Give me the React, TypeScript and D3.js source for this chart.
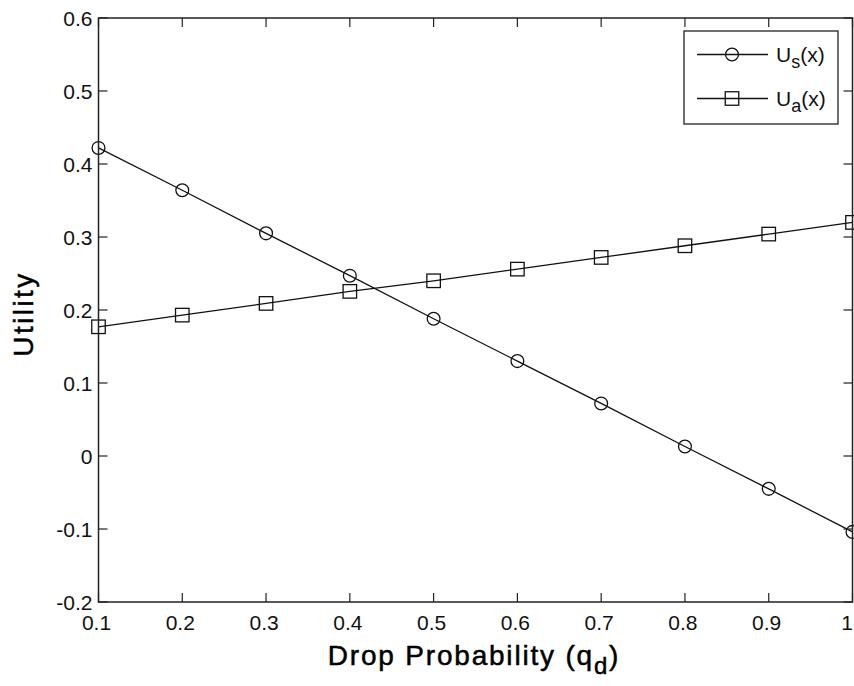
import React from "react";
import * as d3 from "d3";

const xValues = [0.1, 0.2, 0.3, 0.4, 0.5, 0.6, 0.7, 0.8, 0.9, 1.0];
const usValues = [0.422, 0.364, 0.305, 0.247, 0.188, 0.130, 0.072, 0.013, -0.045, -0.104];
const uaValues = [0.177, 0.193, 0.209, 0.2255, 0.240, 0.256, 0.272, 0.288, 0.304, 0.320];
const xTicks = [0.1, 0.2, 0.3, 0.4, 0.5, 0.6, 0.7, 0.8, 0.9, 1.0];
const xTickLabels = ["0.1", "0.2", "0.3", "0.4", "0.5", "0.6", "0.7", "0.8", "0.9", "1"];
const yTicks = [-0.2, -0.1, 0, 0.1, 0.2, 0.3, 0.4, 0.5, 0.6];
const yTickLabels = ["-0.2", "-0.1", "0", "0.1", "0.2", "0.3", "0.4", "0.5", "0.6"];

const W = 854;
const H = 686;
const left = 98.5, right = 852.5, top = 18, bottom = 602;
const font = "'Liberation Sans', Arial, Helvetica, sans-serif";
const TL = 9;

export default function App() {
  const x = d3.scaleLinear().domain([0.1, 1.0]).range([left, right]);
  const y = d3.scaleLinear().domain([-0.2, 0.6]).range([bottom, top]);
  const line = d3
    .line<[number, number]>()
    .x((d) => x(d[0]))
    .y((d) => y(d[1]));
  const usPts: [number, number][] = xValues.map((v, i) => [v, usValues[i]]);
  const uaPts: [number, number][] = xValues.map((v, i) => [v, uaValues[i]]);
  const R = 6.4;
  const S = 13.5;
  const stroke = "#111";

  const legX1 = 697, legX2 = 768, legM = 732;
  const row1 = 54.5, row2 = 98.5;

  return (
    <div style={{ position: "fixed", left: 0, top: 0, width: W, height: H, background: "#fff" }}>
      <svg width={W} height={H} style={{ display: "block", fontFamily: font }}>
        <rect x={0} y={0} width={W} height={H} fill="#fff" />
        {/* data lines */}
        <path d={line(usPts) || ""} fill="none" stroke={stroke} strokeWidth={1.3} />
        <path d={line(uaPts) || ""} fill="none" stroke={stroke} strokeWidth={1.3} />
        {usPts.map((p, i) => (
          <circle key={"c" + i} cx={x(p[0])} cy={y(p[1])} r={R} fill="none" stroke={stroke} strokeWidth={1.3} />
        ))}
        {uaPts.map((p, i) => (
          <rect key={"s" + i} x={x(p[0]) - S / 2} y={y(p[1]) - S / 2} width={S} height={S} fill="none" stroke={stroke} strokeWidth={1.3} />
        ))}
        {/* axes box */}
        <rect x={left} y={top} width={right - left} height={bottom - top} fill="none" stroke="#222" strokeWidth={1.5} />
        {xTicks.map((t, i) => {
          const last = i === xTicks.length - 1;
          return (
            <g key={"xt" + i}>
              <line x1={x(t)} x2={x(t)} y1={bottom} y2={bottom - TL} stroke="#222" strokeWidth={1.2} />
              <line x1={x(t)} x2={x(t)} y1={top} y2={top + TL} stroke="#222" strokeWidth={1.2} />
              <text
                x={last ? W - 1 : x(t) - 2}
                y={630}
                fontSize={21}
                textAnchor={last ? "end" : "middle"}
                fill="#111"
              >
                {xTickLabels[i]}
              </text>
            </g>
          );
        })}
        {yTicks.map((t, i) => (
          <g key={"yt" + i}>
            <line x1={left} x2={left + TL} y1={y(t)} y2={y(t)} stroke="#222" strokeWidth={1.2} />
            <line x1={right} x2={right - TL} y1={y(t)} y2={y(t)} stroke="#222" strokeWidth={1.2} />
            <text x={left - 6} y={y(t)} dy="0.36em" fontSize={21} textAnchor="end" fill="#111">
              {yTickLabels[i]}
            </text>
          </g>
        ))}
        {/* axis labels */}
        <text x={474} y={665} fontSize={28} textAnchor="middle" letterSpacing={1.8} fill="#000" stroke="#000" strokeWidth={0.5}>
          Drop Probability (q
          <tspan fontSize={24} dy={9}>d</tspan>
          <tspan dy={-9}>)</tspan>
        </text>
        <text
          transform={`translate(33, 314) rotate(-90)`}
          fontSize={28}
          textAnchor="middle"
          letterSpacing={2.4}
          fill="#000"
          stroke="#000"
          strokeWidth={0.5}
        >
          Utility
        </text>
        {/* legend */}
        <rect x={684} y={31} width={154} height={93} fill="#fff" stroke="#222" strokeWidth={1.3} />
        <line x1={legX1} x2={legX2} y1={row1} y2={row1} stroke={stroke} strokeWidth={1.3} />
        <circle cx={legM} cy={row1} r={R} fill="none" stroke={stroke} strokeWidth={1.3} />
        <line x1={legX1} x2={legX2} y1={row2} y2={row2} stroke={stroke} strokeWidth={1.3} />
        <rect x={legM - S / 2} y={row2 - S / 2} width={S} height={S} fill="none" stroke={stroke} strokeWidth={1.3} />
        <text x={776} y={row1 + 7} fontSize={21} fill="#111">
          U<tspan fontSize={18} dy={6}>s</tspan>
          <tspan dy={-6}>(x)</tspan>
        </text>
        <text x={776} y={row2 + 7} fontSize={21} fill="#111">
          U<tspan fontSize={18} dy={6}>a</tspan>
          <tspan dy={-6}>(x)</tspan>
        </text>
      </svg>
    </div>
  );
}
